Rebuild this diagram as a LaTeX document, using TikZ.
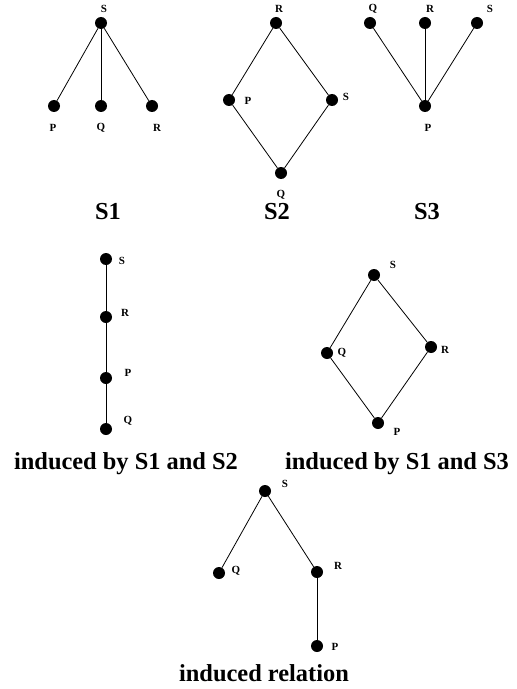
\documentclass[tikz,border=0pt]{standalone}
\usepackage{fontspec}
\setmainfont{Liberation Serif}
\usetikzlibrary{positioning}

\begin{document}
\begin{tikzpicture}[
x=1bp, y=-1bp,
dot/.style={circle,
fill=black,
inner sep=0pt,
minimum size=12bp},
lbl/.style={font=\fontsize{11}{11}\selectfont\bfseries, inner sep=0pt},
caption/.style={font=\fontsize{24.5}{24.5}\selectfont\bfseries, inner sep=0pt},
edge/.style={line width=0.8bp}
]
\useasboundingbox (0,0) rectangle (517,689);

% S1
\node[dot] (aS) at (101,23) {};
\node[dot] (aP) at (54,106) {};
\node[dot] (aQ) at (101,106) {};
\node[dot] (aR) at (152,106) {};
\node[lbl] (aSl) at (104,9) {S};
\node[lbl] (aPl) at (53,128) {P};
\node[lbl] (aQl) at (101,128) {Q};
\node[lbl] (aRl) at (157,128) {R};
\node[caption] (capA) at (108,212) {S1};
\draw[edge] (aS) -- (aP);
\draw[edge] (aS) -- (aQ);
\draw[edge] (aS) -- (aR);

% S2
\node[dot] (bR) at (276,23) {};
\node[dot] (bP) at (229,100) {};
\node[dot] (bS) at (332,100) {};
\node[dot] (bQ) at (281,173) {};
\node[lbl] (bRl) at (279,9) {R};
\node[lbl] (bPl) at (248,101) {P};
\node[lbl] (bSl) at (346,97) {S};
\node[lbl] (bQl) at (281,195) {Q};
\node[caption] (capB) at (277,212) {S2};
\draw[edge] (bR) -- (bP);
\draw[edge] (bR) -- (bS);
\draw[edge] (bP) -- (bQ);
\draw[edge] (bS) -- (bQ);

% S3
\node[dot] (cQ) at (370,23) {};
\node[dot] (cR) at (425,23) {};
\node[dot] (cS) at (477,23) {};
\node[dot] (cP) at (425,106) {};
\node[lbl] (cQl) at (373,9) {Q};
\node[lbl] (cRl) at (430,9) {R};
\node[lbl] (cSl) at (490,9) {S};
\node[lbl] (cPl) at (428,128) {P};
\node[caption] (capC) at (427,212) {S3};
\draw[edge] (cP) -- (cQ);
\draw[edge] (cP) -- (cR);
\draw[edge] (cP) -- (cS);

% induced by S1 and S2
\node[dot] (dS) at (106,259) {};
\node[dot] (dR) at (106,317) {};
\node[dot] (dP) at (106,378) {};
\node[dot] (dQ) at (106,429) {};
\node[lbl] (dSl) at (122,261) {S};
\node[lbl] (dRl) at (125,313) {R};
\node[lbl] (dPl) at (128,373) {P};
\node[lbl] (dQl) at (128,421) {Q};
\node[caption] (capD) at (126,464) {induced by S1 and S2};
\draw[edge] (dS) -- (dR);
\draw[edge] (dR) -- (dP);
\draw[edge] (dP) -- (dQ);

% induced by S1 and S3
\node[dot] (eS) at (374,275) {};
\node[dot] (eQ) at (327,353) {};
\node[dot] (eR) at (431,347) {};
\node[dot] (eP) at (378,423) {};
\node[lbl] (eSl) at (393,265) {S};
\node[lbl] (eQl) at (342,353) {Q};
\node[lbl] (eRl) at (445,350) {R};
\node[lbl] (ePl) at (397,432) {P};
\node[caption] (capE) at (397,464) {induced by S1 and S3};
\draw[edge] (eS) -- (eQ);
\draw[edge] (eS) -- (eR);
\draw[edge] (eQ) -- (eP);
\draw[edge] (eR) -- (eP);

% induced relation
\node[dot] (fS) at (265,491) {};
\node[dot] (fQ) at (219,573) {};
\node[dot] (fR) at (317,572) {};
\node[dot] (fP) at (317,646) {};
\node[lbl] (fSl) at (285,484) {S};
\node[lbl] (fQl) at (236,571) {Q};
\node[lbl] (fRl) at (338,566) {R};
\node[lbl] (fPl) at (335,647) {P};
\node[caption] (capF) at (264,673) {induced relation};
\draw[edge] (fS) -- (fQ);
\draw[edge] (fS) -- (fR);
\draw[edge] (fR) -- (fP);

\end{tikzpicture}
\end{document}
